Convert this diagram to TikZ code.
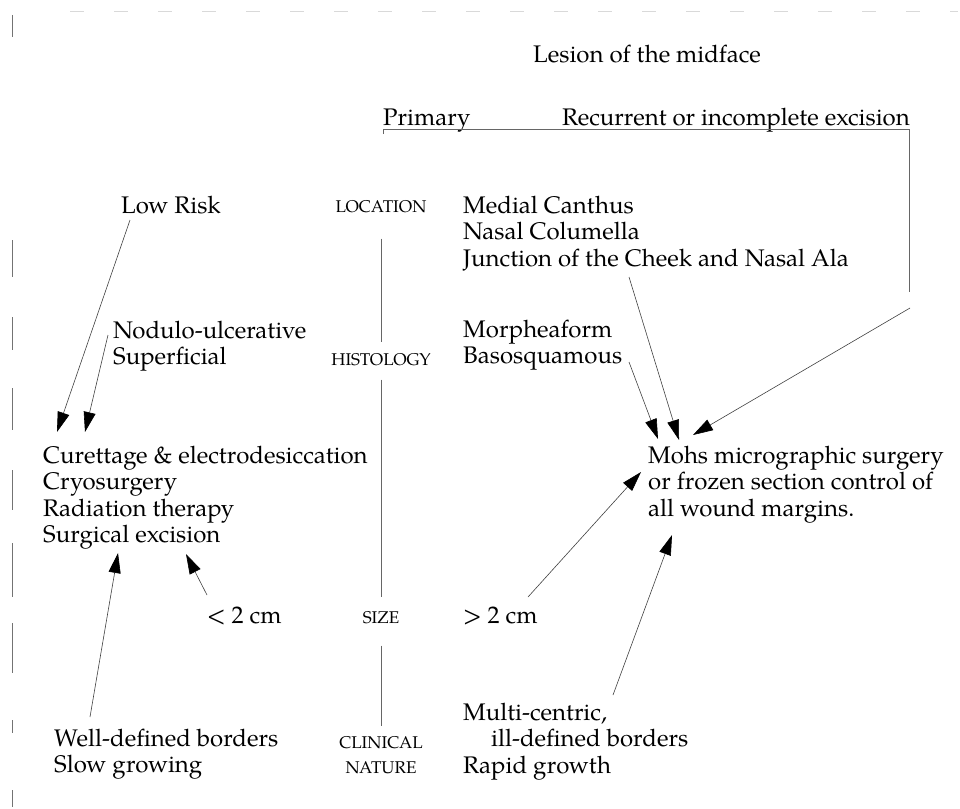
\documentclass[tikz,border=0pt]{standalone}
\usepackage{fontspec}
\setmainfont{TeX Gyre Pagella}
\usetikzlibrary{arrows.meta}
\begin{document}
\begin{tikzpicture}[x=1pt,y=-1pt,
  txt/.style={inner sep=0pt, anchor=base west, align=left, font=\fontsize{24}{26.6}\selectfont},
  caplabel/.style={inner sep=0pt, anchor=base, align=center, font=\fontsize{17}{25}\selectfont},
  arr/.style={draw=black!75, line width=0.6pt, -{Triangle[length=20pt,width=12pt,color=black]}},
  rulel/.style={draw=black!60, line width=0.7pt},
  border/.style={draw=black!55, line width=0.8pt},
  faint/.style={draw=black!15, line width=0.5pt, dash pattern=on 14pt off 30pt}]
\useasboundingbox (0,0) rectangle (960,808);

% page edges of the scan
\draw[faint] (70,11) -- (958,11);
\foreach \a/\b in {15/37,240/277,317/350,388/430,470/510,543/597,623/673,720/733,790/807}
  \draw[border] (12,\a) -- (12,\b);

% headings (base anchor = baseline of the last line)
\node[txt] (lesion) at (533,63) {Lesion of the midface};
\node[txt] (primary) at (383,125) {Primary};
\node[txt] (recurrent) at (562,125) {Recurrent or incomplete excision};

% column labels
\node[caplabel] (loc) at (381,212) {LOCATION};
\node[caplabel] (hist) at (381,365) {HISTOLOGY};
\node[caplabel] (size) at (381,623) {SIZE};
\node[caplabel] (clin) at (381,773) {CLINICAL\\NATURE};

% left column
\node[txt] (lowrisk) at (121,213) {Low Risk};
\node[txt] (nodulo) at (113,364.6) {Nodulo-ulcerative\\Superficial};
\node[txt] (treat) at (43,542.8) {Curettage \& electrodesiccation\\Cryosurgery\\Radiation therapy\\Surgical excision};
\node[txt] (small) at (207,623) {< 2 cm};
\node[txt] (well) at (54,772.6) {Well-defined borders\\Slow growing};

% right column
\node[txt] (medial) at (463,266.2) {Medial Canthus\\Nasal Columella\\Junction of the Cheek and Nasal Ala};
\node[txt] (morph) at (463,363.6) {Morpheaform\\Basosquamous};
\node[txt] (mohs) at (648,516.2) {Mohs micrographic surgery\\or frozen section control of\\all wound margins.};
\node[txt] (large) at (463,623) {> 2 cm};
\node[txt] (multi) at (463,773.2) {Multi-centric,\\\hspace*{28pt}ill-defined borders\\Rapid growth};

% central column line
\draw[rulel, shorten <=26pt, shorten >=11pt] (loc) -- (hist);
\draw[rulel, shorten <=14pt, shorten >=14pt] (hist) -- (size);
\draw[rulel, shorten <=22pt, shorten >=10pt] (size) -- (clin.north);

% bracket over the headings
\coordinate (brA) at (383,134);
\coordinate (brB) at (383,129);
\coordinate (brC) at (909,129);
\coordinate (brD) at (909,292);
\draw[rulel] (brA) -- (brB) -- (brC) -- (brD);

% arrow end points
\coordinate (lowrisk-s) at (130,220);
\coordinate (nodulo-s) at (108,335);
\coordinate (treat-t1) at (57,432);
\coordinate (treat-t2) at (85,432);
\coordinate (well-s) at (90,717);
\coordinate (treat-t3) at (118,553);
\coordinate (small-s) at (207,595);
\coordinate (treat-t4) at (186,554);
\coordinate (medial-s) at (629,277);
\coordinate (mohs-t1) at (679,440);
\coordinate (morph-s) at (629,362);
\coordinate (mohs-t2) at (658,439);
\coordinate (rec-s) at (910,308);
\coordinate (mohs-t3) at (693,435);
\coordinate (large-s) at (528,597);
\coordinate (mohs-t4) at (641,472);
\coordinate (multi-s) at (613,695);
\coordinate (mohs-t5) at (672,535);

\draw[arr] (lowrisk-s) -- (treat-t1);
\draw[arr] (nodulo-s) -- (treat-t2);
\draw[arr] (well-s) -- (treat-t3);
\draw[arr] (small-s) -- (treat-t4);
\draw[arr] (medial-s) -- (mohs-t1);
\draw[arr] (morph-s) -- (mohs-t2);
\draw[arr] (rec-s) -- (mohs-t3);
\draw[arr] (large-s) -- (mohs-t4);
\draw[arr] (multi-s) -- (mohs-t5);
\end{tikzpicture}
\end{document}
